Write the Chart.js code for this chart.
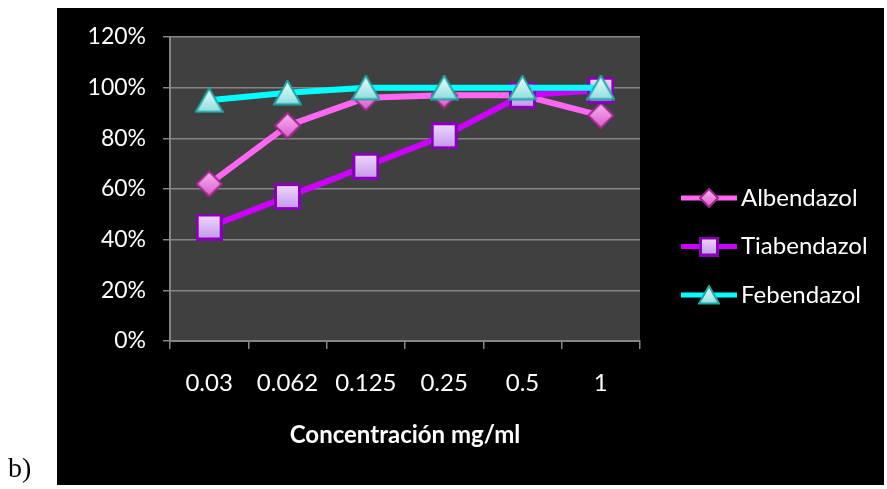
<!DOCTYPE html>
<html>
<head>
<meta charset="utf-8">
<script src="https://cdn.jsdelivr.net/npm/chart.js@4"></script>
<style>
  html, body { margin: 0; padding: 0; background: #ffffff; }
  canvas { display: block; }
</style>
</head>
<body>
<canvas id="chart" width="887" height="489"></canvas>
<script>
const concentrations = ["0.03", "0.062", "0.125", "0.25", "0.5", "1"];
const albendazol = [62, 85, 96, 97, 97, 89];
const tiabendazol = [45, 57, 69, 81, 97, 99];
const febendazol = [95, 98, 100, 100, 100, 100];
const yTicks = [0, 20, 40, 60, 80, 100, 120];

const FONT = "Lato, 'Open Sans', sans-serif";
const GRID = "#858585";

// small beveled marker images, like the office-style chart markers
function makeMarker(shape, w, h, light, mid, dark) {
    const c = document.createElement("canvas");
    c.width = w;
    c.height = h;
    const g = c.getContext("2d");
    g.beginPath();
    if (shape === "diamond") {
        g.moveTo(w / 2, 1);
        g.lineTo(w - 1, h / 2);
        g.lineTo(w / 2, h - 1);
        g.lineTo(1, h / 2);
    } else if (shape === "square") {
        g.rect(1.5, 1.5, w - 3, h - 3);
    } else {
        g.moveTo(w / 2, 1);
        g.lineTo(w - 1, h - 1.5);
        g.lineTo(1, h - 1.5);
    }
    g.closePath();
    const grad = g.createLinearGradient(0, 0, 0, h);
    grad.addColorStop(0, light);
    grad.addColorStop(1, mid);
    g.fillStyle = grad;
    g.fill();
    g.lineWidth = shape === "square" ? 3 : 2;
    g.strokeStyle = dark;
    g.stroke();
    return c;
}

const series = [
    { label: "Albendazol", data: albendazol, color: "#ff66f4", shape: "diamond", size: [27, 27], cols: ["#fbb8f4", "#d858c8", "#a0288e"] },
    { label: "Tiabendazol", data: tiabendazol, color: "#cc00ff", shape: "square", size: [27, 27], cols: ["#f4dcff", "#c094ea", "#8a00b8"] },
    { label: "Febendazol", data: febendazol, color: "#00ffff", shape: "triangle", size: [29, 26], cols: ["#f4ffff", "#88dcdc", "#1fa6a6"] }
];
series.forEach(s => {
    s.marker = makeMarker(s.shape, s.size[0], s.size[1], s.cols[0], s.cols[1], s.cols[2]);
    s.small = makeMarker(s.shape, Math.round(s.size[0] * 0.75), Math.round(s.size[1] * 0.75), s.cols[0], s.cols[1], s.cols[2]);
});

const backdrop = {
    id: "backdrop",
    beforeDraw(chart) {
        const ctx = chart.ctx;
        const a = chart.chartArea;
        ctx.save();
        ctx.fillStyle = "#ffffff";
        ctx.fillRect(0, 0, chart.width, chart.height);
        ctx.fillStyle = "#000000";
        ctx.fillRect(57, 8, 827, 477);
        ctx.fillStyle = "#404040";
        ctx.fillRect(a.left, a.top, a.right - a.left, a.bottom - a.top);
        ctx.fillStyle = "#000000";
        ctx.font = "28px 'Liberation Serif', serif";
        ctx.textBaseline = "middle";
        ctx.fillText("b)", 8, 470);
        ctx.restore();
    },
    afterDraw(chart) {
        const ctx = chart.ctx;
        ctx.save();
        series.forEach((s, i) => {
            const y = 198 + i * 48.5;
            ctx.strokeStyle = s.color;
            ctx.lineWidth = 5;
            ctx.beginPath();
            ctx.moveTo(681, y);
            ctx.lineTo(737, y);
            ctx.stroke();
            ctx.drawImage(s.small, 709 - s.small.width / 2, y - s.small.height / 2);
            ctx.fillStyle = "#ffffff";
            ctx.font = "24px " + FONT;
            ctx.textBaseline = "middle";
            ctx.fillText(s.label, 741, y);
        });
        ctx.restore();
    }
};

new Chart(document.getElementById("chart"), {
    type: "line",
    data: {
        labels: concentrations,
        datasets: series.map((s, i) => ({
            label: s.label,
            data: s.data,
            borderColor: s.color,
            backgroundColor: s.color,
            borderWidth: 6,
            tension: 0,
            pointStyle: s.marker,
            pointRadius: 13,
            pointHoverRadius: 13,
            order: series.length - i
        }))
    },
    options: {
        responsive: false,
        animation: false,
        layout: { padding: { top: 37, right: 247, left: 0, bottom: 0 } },
        plugins: {
            legend: { display: false },
            tooltip: { enabled: false }
        },
        scales: {
            x: {
                offset: true,
                afterFit(scale) { scale.height = 148; },
                grid: { offset: true, drawOnChartArea: false, color: GRID, lineWidth: 1.5, tickLength: 8 },
                border: { color: GRID, width: 2 },
                ticks: { color: "#ffffff", padding: 20, font: { family: FONT, size: 24 } },
                title: {
                    display: true,
                    text: "Concentración mg/ml",
                    color: "#ffffff",
                    font: { family: FONT, size: 24, weight: "bold" },
                    padding: { top: 0, bottom: 39 }
                }
            },
            y: {
                min: 0,
                max: 120,
                afterFit(scale) { scale.width = 170; },
                afterBuildTicks(scale) { scale.ticks = yTicks.map(v => ({ value: v })); },
                grid: { color: GRID, lineWidth: 1.5, tickLength: 7 },
                border: { color: GRID, width: 2 },
                ticks: {
                    color: "#ffffff",
                    padding: 17,
                    font: { family: FONT, size: 23 },
                    callback: v => v + "%"
                }
            }
        }
    },
    plugins: [backdrop]
});
</script>
</body>
</html>
